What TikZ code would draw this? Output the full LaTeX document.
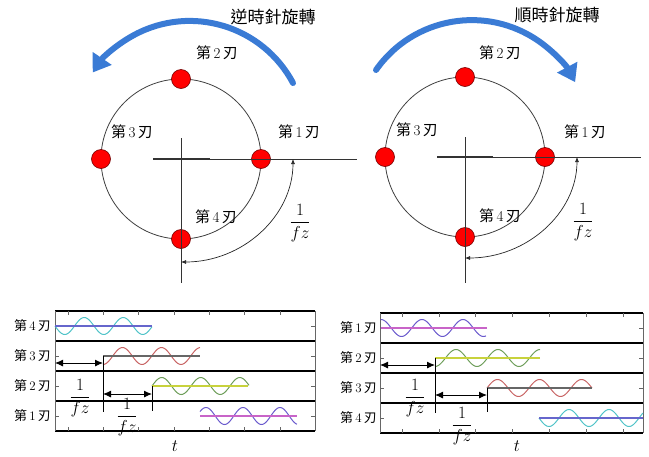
\documentclass[tikz,border=0pt]{standalone}
\usepackage{amsmath}
\usepackage{fontspec}
\newfontfamily\cjk{Noto Sans CJK TC}
\usepackage{tikz}
\usetikzlibrary{arrows.meta}

\definecolor{turnblue}{HTML}{3A7BD5}
\definecolor{wcyan}{HTML}{4FC3C8}
\definecolor{wred}{HTML}{C86464}
\definecolor{wgreen}{HTML}{6E9E5A}
\definecolor{wpurple}{HTML}{6A5ACD}
\definecolor{lblue}{HTML}{6666CC}
\definecolor{lgray}{HTML}{666666}
\definecolor{lyellow}{HTML}{C8D23C}
\definecolor{lmagenta}{HTML}{C864C8}

\newcommand{\blade}[1]{{\cjk 第}\,#1\,{\cjk 刃}}

\begin{document}
\begin{tikzpicture}[
  x=1pt, y=-1pt,
  ring/.style={draw=black!75, line width=0.8pt},
  dot/.style={circle, draw=red!45!black, fill=red, minimum size=19pt, inner sep=0pt, line width=0.6pt},
  axis/.style={draw=black!80, line width=0.7pt},
  turn/.style={draw=turnblue, line width=6pt, line cap=round, -{Triangle[length=17pt, width=22pt]}},
  period/.style={draw=black!85, line width=0.7pt, {Latex[length=5pt, width=4pt]}-{Latex[length=5pt, width=4pt]}},
  lab/.style={font=\fontsize{15}{17}\selectfont, inner sep=0pt},
  turnlab/.style={font=\fontsize{17}{19}\selectfont\cjk, inner sep=0pt},
  frac/.style={font=\fontsize{16}{18}\selectfont, inner sep=0pt},
  rowlab/.style={font=\fontsize{13}{15}\selectfont, inner sep=0pt, anchor=east},
  rule/.style={draw=black, line width=1.6pt},
  side/.style={draw=black!60, line width=0.6pt},
  tick/.style={draw=black!60, line width=0.5pt},
  wave/.style={line width=1pt},
  mid/.style={line width=1.4pt},
  gap/.style={draw=black, line width=0.9pt, {Latex[length=8pt, width=7pt]}-{Latex[length=8pt, width=7pt]}},
  cut/.style={draw=black, line width=0.8pt},
  bigfrac/.style={font=\fontsize{17}{19}\selectfont, inner sep=0pt}
]
\useasboundingbox (0,0) rectangle (649,456);

% Counter-clockwise cutter
\coordinate (cL) at (181,159);
\draw[ring] (cL) circle[radius=80pt];
\node[dot] (L1) at (261,159) {};
\node[dot] (L2) at (181,79) {};
\node[dot] (L3) at (101,159) {};
\node[dot] (L4) at (181,239) {};
\draw[axis] (153,159) -- (357,159);
\draw[axis, line width=1.4pt] (153,159) -- (210,159);
\draw[axis] (181,138) -- (181,283);

\node[lab] (nL1) at (299,132) {\blade{1}};
\node[lab] (nL2) at (217,53) {\blade{2}};
\node[lab] (nL3) at (132,132) {\blade{3}};
\node[lab] (nL4) at (216,217) {\blade{4}};

\draw[turn] (293,83) arc[start angle=28, end angle=146, radius=117pt];
\node[turnlab] (ccw) at (273,17) {逆時針旋轉};

\coordinate (pL1) at (293,159);
\coordinate (pL2) at (181,262);
\draw[period] (pL1) arc[start angle=0, end angle=-90, x radius=112pt, y radius=103pt];
\node[frac] (fL) at (300,223) {$\displaystyle\frac{1}{fz}$};

% Clockwise cutter
\coordinate (cR) at (465,157);
\draw[ring] (cR) circle[radius=80pt];
\node[dot] (R1) at (545,157) {};
\node[dot] (R2) at (465,77) {};
\node[dot] (R3) at (385,157) {};
\node[dot] (R4) at (465,237) {};
\draw[axis] (437,157) -- (641,157);
\draw[axis, line width=1.4pt] (437,157) -- (493,157);
\draw[axis] (465,137) -- (465,283);

\node[lab] (nR1) at (585,132) {\blade{1}};
\node[lab] (nR2) at (500,53) {\blade{2}};
\node[lab] (nR3) at (417,130) {\blade{3}};
\node[lab] (nR4) at (500,216) {\blade{4}};

\draw[turn] (376,70) arc[start angle=145, end angle=28, radius=117pt];
\node[turnlab] (cw) at (557,15) {順時針旋轉};

\coordinate (pR1) at (577,157);
\coordinate (pR2) at (465,258);
\draw[period] (pR1) arc[start angle=0, end angle=-90, x radius=112pt, y radius=101pt];
\node[frac] (fR) at (583,222) {$\displaystyle\frac{1}{fz}$};

% Timing chart, counter-clockwise
\foreach \r in {311,341,371,401,431} \draw[rule] (55,\r) -- (315,\r);
\draw[side] (55,311) -- (55,431) (315,311) -- (315,431);
\foreach \k in {0,...,6} \draw[tick] ({68+35.3*\k},311) -- ++(0,4) ({68+35.3*\k},431) -- ++(0,-4);
\foreach \c in {326,356,386,416} \draw[tick] (55,\c) -- ++(4,0) (315,\c) -- ++(-4,0);

\draw[wave, wcyan] plot[domain=0:97, samples=80] ({55+\x},{326+8.5*sin(\x/39*360)});
\draw[mid, lblue] (55,326) -- (152,326);
\draw[wave, wred] plot[domain=0:97, samples=80] ({103+\x},{356+8.5*cos(\x/39*360)});
\draw[mid, lgray] (103,356) -- (200,356);
\draw[wave, wgreen] plot[domain=0:97, samples=80] ({152+\x},{386-8.5*sin(\x/39*360)});
\draw[mid, lyellow] (152,386) -- (248,386);
\draw[wave, wpurple] plot[domain=0:97, samples=80] ({200+\x},{416-8.5*cos((\x-6)/37*360)});
\draw[mid, lmagenta] (200,416) -- (297,416);

\node[rowlab] (aL4) at (51,326) {\blade{4}};
\node[rowlab] (aL3) at (51,356) {\blade{3}};
\node[rowlab] (aL2) at (51,386) {\blade{2}};
\node[rowlab] (aL1) at (51,416) {\blade{1}};

\coordinate (gL0) at (55,363);
\coordinate (gL1) at (103,363);
\coordinate (gL2) at (103,394);
\coordinate (gL3) at (152,394);
\draw[gap] (gL0) -- (gL1);
\draw[cut] (103,356) -- (103,412);
\draw[gap] (gL2) -- (gL3);
\draw[cut] (152,386) -- (152,411);
\node[bigfrac] (qL1) at (80,398) {$\displaystyle\frac{1}{fz}$};
\node[bigfrac] (qL2) at (127,417) {$\displaystyle\frac{1}{fz}$};
\node[bigfrac] (tL) at (175,446) {$t$};

% Timing chart, clockwise
\foreach \r in {313,343,373,403,433} \draw[rule] (380,\r) -- (643,\r);
\draw[side] (380,313) -- (380,433) (643,313) -- (643,433);
\foreach \k in {0,...,6} \draw[tick] ({402+36.8*\k},313) -- ++(0,4) ({402+36.8*\k},433) -- ++(0,-4);
\foreach \c in {328,358,388,418} \draw[tick] (380,\c) -- ++(4,0) (643,\c) -- ++(-4,0);

\draw[wave, wpurple] plot[domain=0:105, samples=80] ({381+\x},{328-8.5*cos(\x/41*360)});
\draw[mid, lmagenta] (381,328) -- (487,328);
\draw[wave, wgreen] plot[domain=0:105, samples=80] ({435+\x},{358+8.5*cos(\x/42*360)});
\draw[mid, lyellow] (435,358) -- (540,358);
\draw[wave, wred] plot[domain=0:105, samples=80] ({487+\x},{388-8.5*sin(\x/42*360)});
\draw[mid, lgray] (487,388) -- (592,388);
\draw[wave, wcyan] plot[domain=0:104, samples=80] ({539+\x},{418+8.5*sin(\x/40*360)});
\draw[mid, lblue] (539,418) -- (643,418);

\node[rowlab] (aR1) at (377,328) {\blade{1}};
\node[rowlab] (aR2) at (377,358) {\blade{2}};
\node[rowlab] (aR3) at (377,388) {\blade{3}};
\node[rowlab] (aR4) at (377,418) {\blade{4}};

\coordinate (gR0) at (380,365);
\coordinate (gR1) at (435,365);
\coordinate (gR2) at (435,395);
\coordinate (gR3) at (487,395);
\draw[gap] (gR0) -- (gR1);
\draw[cut] (435,358) -- (435,413);
\draw[gap] (gR2) -- (gR3);
\draw[cut] (487,388) -- (487,412);
\node[bigfrac] (qR1) at (415,398) {$\displaystyle\frac{1}{fz}$};
\node[bigfrac] (qR2) at (462,426) {$\displaystyle\frac{1}{fz}$};
\node[bigfrac] (tR) at (517,446) {$t$};

\end{tikzpicture}
\end{document}
